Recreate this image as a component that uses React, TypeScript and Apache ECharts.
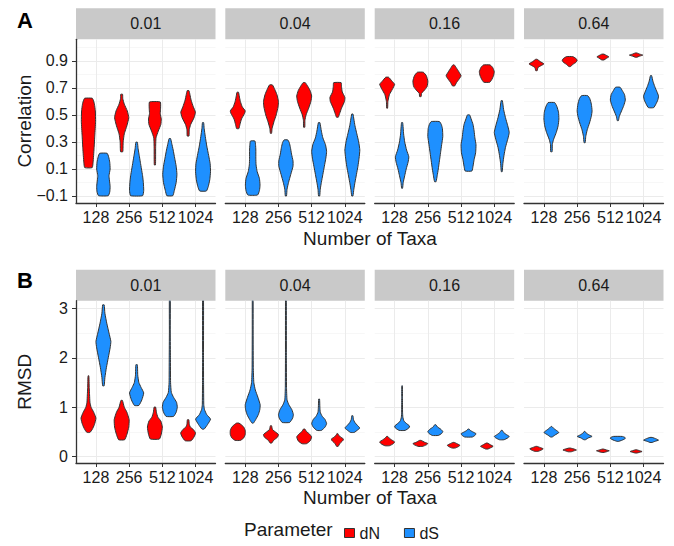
import React, { useEffect, useRef } from 'react';
import * as echarts from 'echarts';

const TAXA = ['128', '256', '512', '1024'];
const RATES = ['0.01', '0.04', '0.16', '0.64'];
const PARAMS = ['dN', 'dS'];
const CORR_TICKS = [-0.1, 0.1, 0.3, 0.5, 0.7, 0.9];
const CORR_MINOR = [0, 0.2, 0.4, 0.6, 0.8, 1.0];
const RMSD_TICKS = [0, 1, 2, 3];
const RMSD_MINOR = [0.5, 1.5, 2.5];

// violin profiles: [value, relative half-width]; indexed [rate][taxa]
const CORR_DN = [
  [
    [[0.11, 0.5], [0.15, 0.62], [0.25, 0.75], [0.35, 0.85], [0.45, 0.95], [0.53, 0.92], [0.58, 0.8], [0.61, 0.65], [0.624, 0.5]],
    [[0.228, 0.15], [0.3, 0.2], [0.36, 0.35], [0.42, 0.7], [0.48, 0.95], [0.53, 0.75], [0.58, 0.35], [0.62, 0.15], [0.653, 0.12]],
    [[0.13, 0.08], [0.25, 0.1], [0.33, 0.15], [0.38, 0.45], [0.43, 0.8], [0.47, 0.85], [0.51, 0.72], [0.55, 0.76], [0.596, 0.72]],
    [[0.344, 0.12], [0.39, 0.15], [0.43, 0.35], [0.48, 0.8], [0.52, 0.98], [0.56, 0.7], [0.61, 0.4], [0.65, 0.25], [0.68, 0.12]],
  ],
  [
    [[0.399, 0.15], [0.43, 0.3], [0.47, 0.5], [0.51, 0.9], [0.53, 1.0], [0.56, 0.6], [0.6, 0.35], [0.64, 0.2], [0.668, 0.1]],
    [[0.364, 0.08], [0.4, 0.15], [0.45, 0.4], [0.5, 0.7], [0.56, 0.95], [0.6, 1.0], [0.65, 0.8], [0.69, 0.5], [0.722, 0.2]],
    [[0.409, 0.08], [0.46, 0.1], [0.5, 0.25], [0.55, 0.6], [0.6, 0.9], [0.64, 1.0], [0.68, 0.8], [0.71, 0.5], [0.739, 0.15]],
    [[0.483, 0.12], [0.51, 0.3], [0.55, 0.55], [0.6, 0.95], [0.63, 1.0], [0.67, 0.65], [0.71, 0.55], [0.739, 0.5]],
  ],
  [
    [[0.55, 0.06], [0.6, 0.1], [0.65, 0.3], [0.69, 0.7], [0.727, 1.0], [0.75, 0.65], [0.779, 0.2]],
    [[0.636, 0.1], [0.66, 0.15], [0.68, 0.5], [0.71, 0.9], [0.75, 1.0], [0.79, 0.8], [0.816, 0.4]],
    [[0.715, 0.15], [0.74, 0.4], [0.77, 0.8], [0.79, 1.0], [0.82, 0.7], [0.85, 0.35], [0.87, 0.1]],
    [[0.742, 0.4], [0.76, 0.65], [0.79, 0.9], [0.82, 1.0], [0.85, 0.8], [0.87, 0.45]],
  ],
  [
    [[0.828, 0.1], [0.85, 0.2], [0.865, 0.6], [0.878, 1.0], [0.895, 0.5], [0.912, 0.1]],
    [[0.858, 0.1], [0.875, 0.45], [0.89, 0.85], [0.905, 1.0], [0.92, 0.8], [0.932, 0.4]],
    [[0.907, 0.15], [0.92, 0.5], [0.93, 0.8], [0.94, 0.5], [0.95, 0.15]],
    [[0.927, 0.1], [0.935, 0.45], [0.943, 0.9], [0.95, 0.5], [0.959, 0.1]],
  ],
];

const CORR_DS = [
  [
    [[-0.098, 0.65], [-0.07, 0.85], [-0.03, 0.9], [0.02, 0.8], [0.05, 0.75], [0.1, 0.9], [0.15, 0.85], [0.19, 0.7], [0.216, 0.5]],
    [[-0.098, 0.8], [-0.06, 0.95], [0.0, 0.9], [0.05, 0.8], [0.1, 0.65], [0.15, 0.5], [0.2, 0.35], [0.25, 0.2], [0.298, 0.1]],
    [[-0.098, 0.4], [-0.06, 0.6], [0.0, 0.85], [0.06, 0.95], [0.12, 0.85], [0.18, 0.65], [0.24, 0.45], [0.29, 0.25], [0.325, 0.1]],
    [[-0.063, 0.45], [-0.03, 0.7], [0.02, 0.9], [0.08, 1.0], [0.14, 0.95], [0.2, 0.75], [0.27, 0.5], [0.34, 0.3], [0.4, 0.15], [0.443, 0.08]],
  ],
  [
    [[-0.093, 0.65], [-0.06, 0.9], [-0.02, 0.98], [0.03, 0.9], [0.08, 0.6], [0.13, 0.45], [0.18, 0.42], [0.24, 0.42], [0.28, 0.38], [0.307, 0.3]],
    [[-0.1, 0.08], [-0.05, 0.15], [0.0, 0.35], [0.06, 0.65], [0.12, 0.95], [0.16, 0.95], [0.21, 0.75], [0.26, 0.6], [0.295, 0.45], [0.315, 0.25]],
    [[-0.1, 0.08], [-0.05, 0.15], [0.0, 0.3], [0.06, 0.5], [0.12, 0.7], [0.18, 0.9], [0.23, 1.0], [0.28, 0.85], [0.33, 0.5], [0.38, 0.3], [0.443, 0.1]],
    [[-0.1, 0.08], [-0.05, 0.2], [0.0, 0.35], [0.06, 0.55], [0.12, 0.75], [0.18, 0.9], [0.24, 1.0], [0.3, 0.85], [0.36, 0.6], [0.42, 0.35], [0.47, 0.2], [0.507, 0.08]],
  ],
  [
    [[-0.043, 0.06], [0.0, 0.15], [0.05, 0.35], [0.1, 0.55], [0.15, 0.8], [0.19, 0.9], [0.24, 0.6], [0.3, 0.35], [0.36, 0.2], [0.443, 0.08]],
    [[0.006, 0.1], [0.05, 0.25], [0.1, 0.4], [0.16, 0.55], [0.22, 0.7], [0.28, 0.85], [0.34, 1.0], [0.4, 0.95], [0.43, 0.8], [0.451, 0.55]],
    [[0.085, 0.45], [0.12, 0.6], [0.17, 0.75], [0.22, 0.95], [0.28, 1.0], [0.33, 0.85], [0.38, 0.75], [0.43, 0.6], [0.47, 0.35], [0.5, 0.15]],
    [[0.08, 0.06], [0.14, 0.15], [0.2, 0.3], [0.26, 0.5], [0.32, 0.8], [0.37, 1.0], [0.42, 0.8], [0.48, 0.5], [0.54, 0.25], [0.606, 0.08]],
  ],
  [
    [[0.228, 0.1], [0.28, 0.12], [0.32, 0.3], [0.37, 0.65], [0.42, 0.9], [0.47, 1.0], [0.52, 0.95], [0.56, 0.75], [0.591, 0.45]],
    [[0.295, 0.08], [0.34, 0.15], [0.39, 0.35], [0.44, 0.65], [0.49, 0.9], [0.53, 1.0], [0.58, 0.9], [0.62, 0.7], [0.643, 0.4]],
    [[0.458, 0.08], [0.49, 0.2], [0.53, 0.5], [0.57, 0.8], [0.61, 1.0], [0.65, 0.9], [0.68, 0.6], [0.705, 0.3]],
    [[0.554, 0.35], [0.58, 0.65], [0.61, 0.9], [0.64, 1.0], [0.67, 0.8], [0.71, 0.5], [0.75, 0.25], [0.791, 0.08]],
  ],
];

const RMSD_DN = [
  [
    [[0.491, 0.2], [0.55, 0.5], [0.65, 0.8], [0.78, 1.0], [0.9, 0.7], [1.0, 0.35], [1.1, 0.2], [1.25, 0.15], [1.4, 0.1], [1.55, 0.08], [1.636, 0.05]],
    [[0.343, 0.4], [0.45, 0.7], [0.6, 0.95], [0.75, 1.0], [0.9, 0.7], [1.0, 0.35], [1.138, 0.1]],
    [[0.357, 0.6], [0.45, 0.85], [0.6, 1.0], [0.72, 0.8], [0.8, 0.4], [0.9, 0.2], [1.003, 0.1]],
    [[0.323, 0.4], [0.4, 0.8], [0.48, 1.0], [0.55, 0.7], [0.6, 0.3], [0.66, 0.15], [0.747, 0.1]],
  ],
  [
    [[0.33, 0.35], [0.38, 0.8], [0.45, 1.0], [0.53, 1.0], [0.6, 0.8], [0.65, 0.45], [0.68, 0.15]],
    [[0.276, 0.1], [0.33, 0.35], [0.4, 0.9], [0.45, 1.0], [0.5, 0.6], [0.55, 0.2], [0.626, 0.08]],
    [[0.263, 0.3], [0.32, 0.8], [0.4, 1.0], [0.46, 0.7], [0.51, 0.3], [0.559, 0.1]],
    [[0.209, 0.1], [0.27, 0.35], [0.33, 0.75], [0.36, 0.8], [0.4, 0.4], [0.44, 0.15], [0.465, 0.08]],
  ],
  [
    [[0.222, 0.3], [0.26, 0.8], [0.3, 1.0], [0.34, 0.6], [0.38, 0.25], [0.41, 0.08]],
    [[0.209, 0.3], [0.24, 0.8], [0.265, 1.0], [0.29, 0.6], [0.33, 0.1]],
    [[0.175, 0.2], [0.2, 0.6], [0.23, 0.85], [0.26, 0.5], [0.289, 0.1]],
    [[0.155, 0.15], [0.18, 0.5], [0.21, 0.85], [0.24, 0.5], [0.276, 0.08]],
  ],
  [
    [[0.108, 0.2], [0.13, 0.6], [0.16, 0.9], [0.185, 0.5], [0.209, 0.1]],
    [[0.1, 0.2], [0.12, 0.6], [0.135, 0.9], [0.15, 0.7], [0.175, 0.1]],
    [[0.087, 0.15], [0.105, 0.6], [0.12, 0.85], [0.135, 0.5], [0.155, 0.08]],
    [[0.074, 0.1], [0.09, 0.5], [0.105, 0.8], [0.12, 0.5], [0.141, 0.08]],
  ],
];

const RMSD_DS = [
  [
    [[1.434, 0.1], [1.6, 0.2], [1.8, 0.4], [2.0, 0.65], [2.2, 0.9], [2.33, 1.0], [2.5, 0.75], [2.7, 0.45], [2.9, 0.2], [3.07, 0.1]],
    [[1.037, 0.3], [1.15, 0.7], [1.29, 0.95], [1.4, 0.6], [1.5, 0.3], [1.65, 0.15], [1.859, 0.1]],
    [[0.815, 0.5], [0.9, 0.85], [1.0, 1.0], [1.1, 0.9], [1.2, 0.5], [1.3, 0.2], [1.5, 0.1], [2.0, 0.08], [2.5, 0.06], [3.3, 0.06]],
    [[0.559, 0.15], [0.65, 0.6], [0.76, 1.0], [0.85, 0.5], [0.95, 0.2], [1.05, 0.1], [1.5, 0.07], [2.0, 0.06], [3.3, 0.06]],
  ],
  [
    [[0.68, 0.1], [0.75, 0.4], [0.85, 0.75], [0.95, 0.95], [1.05, 1.0], [1.2, 0.7], [1.35, 0.35], [1.5, 0.15], [1.8, 0.08], [2.5, 0.06], [3.3, 0.05]],
    [[0.693, 0.5], [0.78, 0.9], [0.85, 1.0], [0.95, 0.8], [1.05, 0.4], [1.15, 0.15], [1.4, 0.08], [2.0, 0.06], [3.3, 0.05]],
    [[0.532, 0.3], [0.6, 0.8], [0.67, 1.0], [0.75, 0.8], [0.82, 0.4], [0.9, 0.15], [1.0, 0.1], [1.165, 0.06]],
    [[0.491, 0.25], [0.54, 0.7], [0.58, 1.0], [0.63, 0.7], [0.69, 0.35], [0.75, 0.15], [0.828, 0.08]],
  ],
  [
    [[0.532, 0.4], [0.58, 0.9], [0.62, 1.0], [0.67, 0.6], [0.72, 0.25], [0.8, 0.1], [0.9, 0.06], [1.2, 0.05], [1.434, 0.04]],
    [[0.43, 0.4], [0.47, 0.85], [0.51, 1.0], [0.56, 0.7], [0.6, 0.3], [0.646, 0.08]],
    [[0.398, 0.5], [0.43, 0.85], [0.465, 1.0], [0.5, 0.6], [0.53, 0.25], [0.559, 0.08]],
    [[0.343, 0.3], [0.38, 0.8], [0.41, 1.0], [0.45, 0.6], [0.49, 0.25], [0.532, 0.08]],
  ],
  [
    [[0.398, 0.1], [0.44, 0.5], [0.49, 1.0], [0.54, 0.6], [0.58, 0.25], [0.612, 0.05]],
    [[0.343, 0.1], [0.38, 0.5], [0.41, 1.0], [0.44, 0.6], [0.48, 0.2], [0.512, 0.05]],
    [[0.31, 0.1], [0.33, 0.5], [0.35, 0.8], [0.37, 1.0], [0.39, 0.95], [0.41, 0.6]],
    [[0.289, 0.15], [0.31, 0.5], [0.335, 1.0], [0.36, 0.7], [0.39, 0.15]],
  ],
];

const FONT = '"Liberation Sans", Arial, Helvetica, sans-serif';
const COLORS = ['#FF0000', '#1E90FF'];
const OUTLINE = '#333333';
const TEXT = '#1a1a1a';
const HALF = 0.225;
const DODGE = 0.225;
const COL_LEFT = [76, 225.3, 374.7, 524];
const COL_W = 139.5;
const STRIP_H = 31;
const TICK_FS = 16;
const TITLE_FS = 19;

const fmtCorr = (v: number) => (v < 0 ? '\u2212' + Math.abs(v).toFixed(1) : v.toFixed(1));
const fmtRmsd = (v: number) => String(Math.round(v));

const ROWS = [
  { top: 39.3, height: 163.7, min: -0.152, max: 1.06, ticks: CORR_TICKS, minor: CORR_MINOR, prof: [CORR_DN, CORR_DS], title: 'Correlation', tag: 'A', fmt: fmtCorr, xTitleY: 238, tagY: 20 },
  { top: 300.7, height: 162.3, min: -0.127, max: 3.154, ticks: RMSD_TICKS, minor: RMSD_MINOR, prof: [RMSD_DN, RMSD_DS], title: 'RMSD', tag: 'B', fmt: fmtRmsd, xTitleY: 497, tagY: 280.5 },
];

function buildOption() {
  const grid: any[] = [];
  const xAxis: any[] = [];
  const yAxis: any[] = [];
  const series: any[] = [];
  const graphic: any[] = [];

  ROWS.forEach((row, r) => {
    COL_LEFT.forEach((left, c) => {
      const g = r * 4 + c;
      grid.push({ left, top: row.top, width: COL_W, height: row.height, containLabel: false });
      xAxis.push({
        type: 'value', gridIndex: g, min: 0.4, max: 4.6,
        axisLine: { show: true, onZero: false, lineStyle: { color: OUTLINE, width: 1.3 } },
        axisTick: { show: true, customValues: [1, 2, 3, 4], length: 4, lineStyle: { color: OUTLINE, width: 1 } },
        axisLabel: {
          show: true, customValues: [1, 2, 3, 4], margin: 6,
          formatter: (v: number) => TAXA[Math.round(v) - 1],
          fontSize: TICK_FS, color: TEXT, fontFamily: FONT,
        },
        splitLine: { show: true, lineStyle: { color: '#ebebeb', width: 1 } },
      });
      yAxis.push({
        type: 'value', gridIndex: g, min: row.min, max: row.max, position: 'left',
        axisLine: { show: c === 0, onZero: false, lineStyle: { color: OUTLINE, width: 1.3 } },
        axisTick: { show: c === 0, customValues: row.ticks, length: 4, lineStyle: { color: OUTLINE, width: 1 } },
        axisLabel: { show: c === 0, customValues: row.ticks, margin: 8, formatter: row.fmt, fontSize: TICK_FS, color: TEXT, fontFamily: FONT },
        splitLine: { show: true, lineStyle: { color: '#ebebeb', width: 1 } },
      });
      yAxis.push({
        type: 'value', gridIndex: g, min: row.min, max: row.max, position: 'left',
        axisLine: { show: false }, axisLabel: { show: false },
        axisTick: { show: false, customValues: row.minor },
        splitLine: { show: true, lineStyle: { color: '#f4f4f4', width: 0.7 } },
      });
      PARAMS.forEach((pname, p) => {
        const profs = row.prof[p][c];
        const off = p === 0 ? -DODGE : DODGE;
        series.push({
          type: 'custom', name: pname, xAxisIndex: g, yAxisIndex: 2 * g, clip: true,
          itemStyle: { color: COLORS[p], borderColor: OUTLINE, borderWidth: 1 },
          data: TAXA.map((_, t) => {
            const pr = profs[t];
            return [t + 1 + off, (pr[0][0] + pr[pr.length - 1][0]) / 2, t];
          }),
          renderItem: (params: any, api: any) => {
            const cx = api.value(0);
            const t = api.value(2);
            const pr = profs[t];
            const rightSide = pr.map(([v, w]: number[]) => api.coord([cx + w * HALF, v]));
            const leftSide = pr.slice().reverse().map(([v, w]: number[]) => api.coord([cx - w * HALF, v]));
            return {
              type: 'polygon',
              shape: { points: rightSide.concat(leftSide), smooth: 0.15 },
              style: { fill: COLORS[p], stroke: OUTLINE, lineWidth: 1 },
            };
          },
        });
      });
      graphic.push({
        type: 'rect', shape: { x: left, y: row.top - STRIP_H, width: COL_W, height: STRIP_H },
        style: { fill: '#c9c9c9' }, silent: true,
      });
      graphic.push({
        type: 'text', x: left + COL_W / 2, y: row.top - STRIP_H / 2,
        style: { text: RATES[c], fontSize: TICK_FS, fill: TEXT, fontFamily: FONT, align: 'center', verticalAlign: 'middle' },
        silent: true,
      });
    });
    graphic.push({
      type: 'text', x: 24.5, y: row.top + row.height / 2, rotation: Math.PI / 2,
      style: { text: row.title, fontSize: TITLE_FS, fill: TEXT, fontFamily: FONT, align: 'center', verticalAlign: 'middle' },
    });
    graphic.push({
      type: 'text', x: 370, y: row.xTitleY,
      style: { text: 'Number of Taxa', fontSize: TITLE_FS, fill: TEXT, fontFamily: FONT, align: 'center', verticalAlign: 'middle' },
    });
    graphic.push({
      type: 'text', x: 25, y: row.tagY,
      style: { text: row.tag, fontSize: 22, fontWeight: 'bold', fill: '#000', fontFamily: FONT, align: 'center', verticalAlign: 'middle' },
    });
  });

  graphic.push({
    type: 'text', x: 244, y: 529,
    style: { text: 'Parameter', fontSize: TITLE_FS, fill: TEXT, fontFamily: FONT, align: 'left', verticalAlign: 'middle' },
  });

  return {
    animation: false,
    backgroundColor: '#ffffff',
    grid, xAxis, yAxis, series, graphic,
    legend: {
      data: PARAMS, left: 339, top: 520, orient: 'horizontal', icon: 'rect',
      itemWidth: 10, itemHeight: 9, itemGap: 24,
      itemStyle: { borderColor: OUTLINE, borderWidth: 1 },
      textStyle: { fontSize: TICK_FS, color: TEXT, fontFamily: FONT },
    },
  };
}

export default function App() {
  const ref = useRef<HTMLDivElement>(null);
  useEffect(() => {
    if (!ref.current) return;
    const chart = echarts.init(ref.current, undefined, { renderer: 'svg' });
    chart.setOption(buildOption() as any);
    return () => chart.dispose();
  }, []);
  return <div ref={ref} style={{ position: 'fixed', left: 0, top: 0, width: 674, height: 546 }} />;
}
